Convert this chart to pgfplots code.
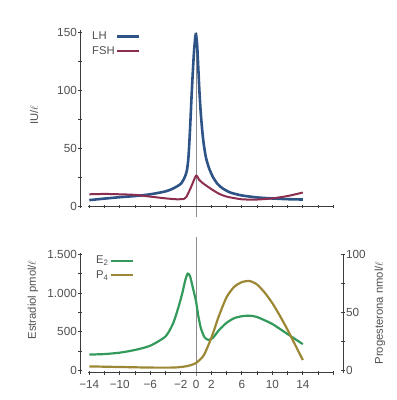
\documentclass[border=0pt]{standalone}
\usepackage{pgfplots}
\pgfplotsset{compat=1.18}
\usepackage{fontspec}
\setmainfont{Liberation Sans}
\definecolor{lhc}{RGB}{46,84,135}
\definecolor{fshc}{RGB}{140,46,80}
\definecolor{e2c}{RGB}{52,154,92}
\definecolor{p4c}{RGB}{156,136,52}
\definecolor{axisc}{RGB}{60,60,60}
\definecolor{txtc}{RGB}{80,80,80}
\definecolor{vlc}{RGB}{140,140,140}
\newcommand{\fs}{\fontsize{11.8}{13}\selectfont}
\newcommand{\fl}{\fontsize{11.3}{13}\selectfont}
\begin{document}
\begin{tikzpicture}
\path (0,0) rectangle (397bp,-400bp);
\pgfplotsset{
  mystyle/.style={
    scale only axis, width=263bp, xmin=-15.22, xmax=19.27, clip=false,
    axis line style={draw=none}, tick align=inside, major tick length=3.5bp,
    tick style={axisc, line width=0.9bp},
    tick label style={font=\fs, text=txtc},
    yticklabel style={inner sep=1.2bp},
    xticklabel style={inner sep=1.5bp, yshift=-4bp},
    legend style={draw=none, fill=none, font=\fl, text=txtc, inner sep=0pt,
      row sep=3.5bp, nodes={inner sep=1bp}},
    legend plot pos=right, legend cell align=left,
    legend image code/.code={\draw[#1] (0bp,0bp) -- (22bp,0bp);},
  }
}
% ---------------- top panel
\begin{axis}[mystyle, at={(80bp,-206.5bp)}, anchor=south west, height=176.8bp,
  ymin=0, ymax=152, axis x line=bottom, axis y line=left,
  xtick={-14,-12,...,18}, xticklabels={},
  ytick={0,25,...,150}, yticklabels={0,,50,,100,,150},
  legend style={at={(axis description cs:0.042,0.995)}, anchor=north west}]
\addplot[vlc, line width=0.9bp, forget plot] coordinates {(0,-9) (0,150)};
\addplot[lhc, line width=2.6bp, smooth, tension=0.4] coordinates {
(-14,5.5) (-12,6.8) (-10,8) (-8,9) (-6,10.5) (-4,13) (-3,15.5) (-2,19.5)
(-1.5,25) (-1.2,31) (-1.0,42) (-0.8,65) (-0.55,100) (-0.3,130) (-0.1,146) (0,148)
(0.15,138) (0.3,118) (0.45,98) (0.6,82) (0.8,66) (1.0,54) (1.3,42) (1.7,33)
(2.2,25.5) (2.8,19.5) (3.5,15.5) (4.5,12) (6,9.5) (8,7.8) (10,6.9) (12,6.3) (14,6)};
\addlegendentry{LH}
\addplot[fshc, line width=2bp, smooth, tension=0.4] coordinates {
(-14,10.5) (-12,10.8) (-10,10.5) (-8,10) (-6,8.5) (-4,7) (-2.5,6.2) (-1.6,6.5)
(-1.3,8) (-0.7,16) (0,26.5) (0.4,23) (0.9,20) (2,15) (3,11) (4,8.5) (6,6.2)
(8,6) (10,7) (12,9) (14,12)};
\addlegendentry{FSH}
\draw[axisc, line width=1bp] (axis cs:-14.15,0) -- (axis cs:18.1,0);
\draw[axisc, line width=1bp] (axis cs:-15.22,-1.5) -- (axis cs:-15.22,152);
\end{axis}
% ---------------- bottom panel, left axis
\begin{axis}[mystyle, at={(80bp,-372.8bp)}, anchor=south west, height=135.6bp,
  ymin=-30, ymax=1720, axis x line=bottom, axis y line=left,
  xtick={-14,-12,...,18},
  xticklabels={−14,,−10,,−6,,−2,0,2,,6,,10,,14,,},
  ytick={0,250,...,1500}, yticklabels={0,,500,,1.000,,1.500},
  legend style={at={(axis description cs:0.057,0.87)}, anchor=north west}]
\addplot[vlc, line width=0.9bp, forget plot] coordinates {(0,-75) (0,1720)};
\addplot[e2c, line width=2.2bp, smooth, tension=0.4] coordinates {
(-14,205) (-12,212) (-10,230) (-8,265) (-6,320) (-4,440) (-3,610) (-2.3,820)
(-1.8,1000) (-1.4,1170) (-1.1,1250) (-0.8,1220) (-0.4,1060) (0,890) (0.3,700)
(0.65,540) (1.1,430) (1.6,395) (2.2,420) (3,520) (4,615) (5,675) (6,700)
(7,707) (8,690) (10,600) (12,470) (14,340)};
\addlegendentry{E\textsubscript{2}}
\addlegendimage{p4c, line width=2.2bp}
\addlegendentry{P\textsubscript{4}}
\draw[axisc, line width=1bp] (axis cs:-14.15,-30) -- (axis cs:18.1,-30);
\draw[axisc, line width=1bp] (axis cs:-15.22,-45) -- (axis cs:-15.22,1510);
\end{axis}
% ---------------- bottom panel, right axis
\begin{axis}[mystyle, at={(80bp,-372.8bp)}, anchor=south west, height=135.6bp,
  ymin=-2, ymax=114.67, axis x line=none, axis y line=right,
  ytick={0,25,...,100}, yticklabels={0,,50,,100}]
\addplot[p4c, line width=2.2bp, smooth, tension=0.4] coordinates {
(-14,3.5) (-10,3) (-6,2.5) (-3,2.5) (-2,3) (-1,4) (0,6.5) (1,13) (2,28) (3,47)
(4,63) (5,72) (6,76) (7,77) (8,74) (9,67) (10,58) (11,47) (12,35) (13,22) (14,9)};
\draw[axisc, line width=1bp] (axis cs:19.27,-2.5) -- (axis cs:19.27,100.5);
\end{axis}
% ---------------- axis titles
\node[rotate=90, font=\fl, text=txtc] at (34bp,-115bp) {IU/$\ell$};
\node[rotate=90, font=\fl, text=txtc] at (33bp,-300bp) {Estradiol pmol/$\ell$};
\node[rotate=90, font=\fl, text=txtc] at (380bp,-313bp) {Progesterona nmol/$\ell$};
\end{tikzpicture}
\end{document}
